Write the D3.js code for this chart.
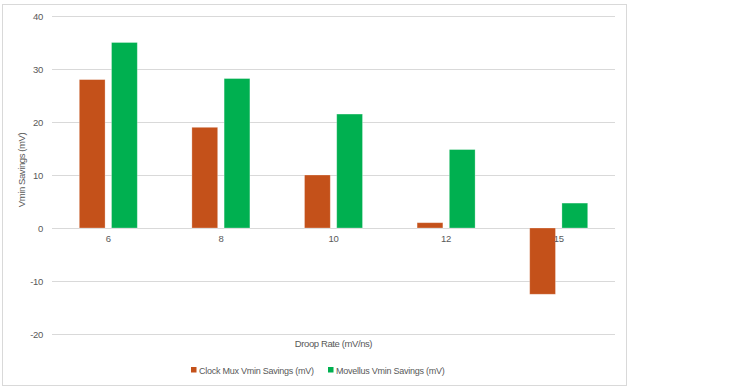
<!DOCTYPE html>
<html><head><meta charset="utf-8">
<script src="https://cdn.jsdelivr.net/npm/d3@7"></script>
<style>
html,body{margin:0;padding:0;background:#fff;}
text{font-family:"Liberation Sans",Arial,sans-serif;}
</style></head>
<body><svg id="c" width="737" height="390"></svg>
<script>
const categories = ["6","8","10","12","15"];
const clockMux = [28, 19, 10, 1, -12.5];
const movellus = [35, 28.2, 21.5, 14.8, 4.7];
const seriesNames = ["Clock Mux Vmin Savings (mV)", "Movellus Vmin Savings (mV)"];
const seriesColors = ["#C4511A", "#00B050"];
const yTicks = [-20, -10, 0, 10, 20, 30, 40];

const svg = d3.select("#c");
svg.append("rect").attr("x",2.5).attr("y",4.5).attr("width",624).attr("height",381)
  .attr("fill","#fff").attr("stroke","#d9d9d9").attr("stroke-width",1);

const mLeft=52, mRight=615, mTop=16, mBottom=334;
const x = d3.scaleBand().domain(categories).range([mLeft,mRight]);
const y = d3.scaleLinear().domain([-20,40]).range([mBottom,mTop]);
const sub = d3.scaleBand().domain([0,1]).range([-29,29]).paddingInner(0.2);
const txt = "#595959";

// gridlines
svg.append("g").selectAll("line").data(yTicks).join("line")
  .attr("x1",mLeft).attr("x2",mRight)
  .attr("y1",d=>Math.round(y(d))+0.5).attr("y2",d=>Math.round(y(d))+0.5)
  .attr("stroke","#d9d9d9").attr("stroke-width",1);

// y axis labels
const yAxis = d3.axisLeft(y).tickValues(yTicks).tickSize(0).tickPadding(9).tickFormat(d=>String(d));
const gy = svg.append("g").attr("transform",`translate(${mLeft},0)`).call(yAxis);
gy.select(".domain").remove();
gy.selectAll("text").attr("font-size",9.5).attr("letter-spacing","-0.3").attr("fill",txt).attr("font-family","Liberation Sans, Arial, sans-serif");

// bars
const data = [clockMux, movellus];
data.forEach((vals,si)=>{
  svg.append("g").selectAll("rect").data(vals).join("rect")
    .attr("x",(d,i)=>x(categories[i])+x.bandwidth()/2+sub(si))
    .attr("width",sub.bandwidth())
    .attr("y",d=>y(Math.max(0,d)))
    .attr("height",d=>Math.abs(y(d)-y(0)))
    .attr("fill",seriesColors[si])
    .attr("stroke","#ffffff").attr("stroke-opacity",0.35).attr("stroke-width",0.8);
});

// x axis labels at zero line
const xAxis = d3.axisBottom(x).tickSize(0).tickPadding(7);
const gx = svg.append("g").attr("transform",`translate(0,${y(0)})`).call(xAxis);
gx.select(".domain").remove();
gx.selectAll("text").attr("font-size",9.5).attr("letter-spacing","-0.3").attr("fill",txt).attr("font-family","Liberation Sans, Arial, sans-serif");

// axis titles
svg.append("text").attr("x",(mLeft+mRight)/2).attr("y",347).attr("text-anchor","middle")
  .attr("font-size",9.5).attr("letter-spacing","-0.4").attr("fill",txt).text("Droop Rate (mV/ns)");
svg.append("text").attr("transform","translate(25,170) rotate(-90)").attr("text-anchor","middle")
  .attr("font-size",9.5).attr("letter-spacing","-0.4").attr("fill",txt).text("Vmin Savings (mV)");

// legend
const legX = [191, 328];
seriesNames.forEach((n,i)=>{
  svg.append("rect").attr("x",legX[i]).attr("y",367).attr("width",5.5).attr("height",5.5).attr("fill",seriesColors[i]);
  svg.append("text").attr("x",legX[i]+8).attr("y",374).attr("font-size",9).attr("fill",txt)
    .attr("letter-spacing","-0.25").text(n);
});
</script></body></html>
